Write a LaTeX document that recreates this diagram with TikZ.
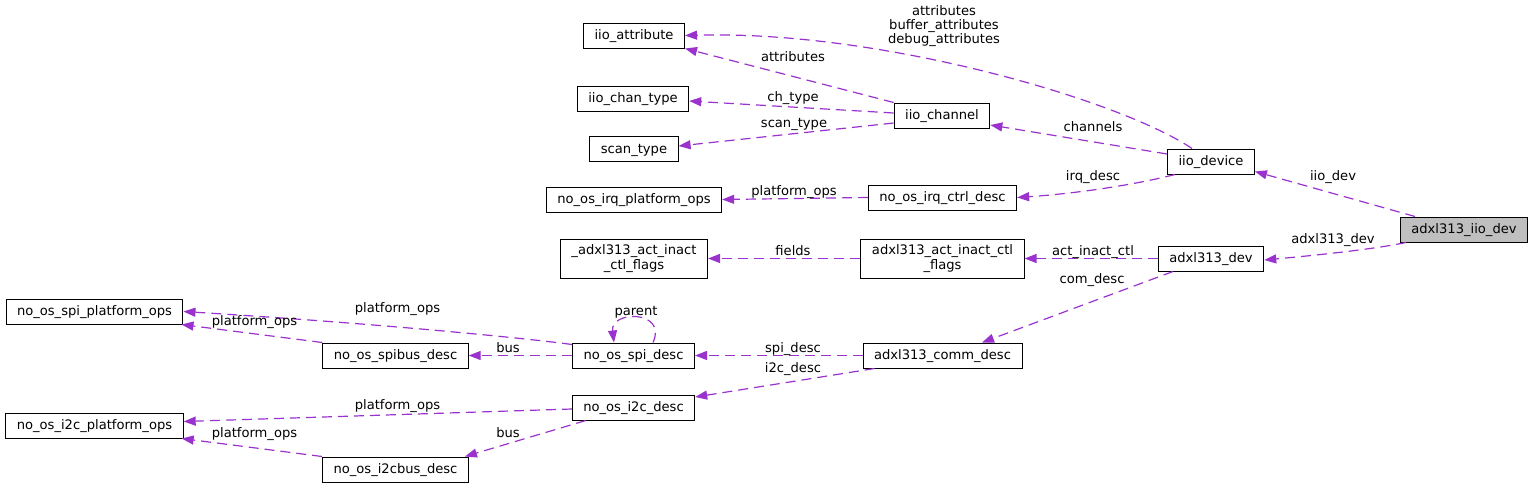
\documentclass[tikz,border=0pt]{standalone}
\usepackage{fontspec}
\setmainfont{DejaVu Sans}
\usetikzlibrary{arrows.meta}
\definecolor{memberpurple}{RGB}{154,50,205}
\definecolor{rootgray}{RGB}{191,191,191}

\begin{document}
\begin{tikzpicture}[x=1pt, y=-1pt,
    every node/.style={font=\fontsize{13.1}{14.2}\selectfont},
    box/.style={draw=black, line width=1pt, fill=white, minimum height=25pt, inner xsep=11pt, inner ysep=2pt, text height=10pt, text depth=2pt, align=center},
    twoline/.style={minimum height=39pt, text height=, text depth=},
    lbl/.style={inner sep=0pt, text height=10.5pt, text depth=1.5pt, align=center},
    member/.style={draw=memberpurple, line width=1.2pt, dash pattern=on 10pt off 6pt, -{Triangle[length=12pt,width=9pt]}}]
    \useasboundingbox (0,0) rectangle (1533,488);

    % Nodes
    \node[box] (attr) at (634,35.5) {iio\_attribute};
    \node[box] (chantype) at (633,98.5) {iio\_chan\_type};
    \node[box] (scantype) at (634,149) {scan\_type};
    \node[box] (channel) at (942,115.5) {iio\_channel};
    \node[box] (irqops) at (634,199.5) {no\_os\_irq\_platform\_ops};
    \node[box] (irqctrl) at (942.5,197.5) {no\_os\_irq\_ctrl\_desc};
    \node[box] (device) at (1211,161.5) {iio\_device};
    \node[box, fill=rootgray] (iiodev) at (1464,229.5) {adxl313\_iio\_dev};
    \node[box] (adxldev) at (1211,258.5) {adxl313\_dev};
    \node[box, twoline] (flagsu) at (634,258.5) {\_adxl313\_act\_inact\\\_ctl\_flags};
    \node[box, twoline] (flags) at (942.5,258.5) {adxl313\_act\_inact\_ctl\\\_flags};
    \node[box] (spiops) at (94.5,311.5) {no\_os\_spi\_platform\_ops};
    \node[box] (spibus) at (395.5,355.5) {no\_os\_spibus\_desc};
    \node[box] (spidesc) at (633.5,355.5) {no\_os\_spi\_desc};
    \node[box] (comm) at (942.5,355.5) {adxl313\_comm\_desc};
    \node[box] (i2cops) at (94.5,425.5) {no\_os\_i2c\_platform\_ops};
    \node[box] (i2cdesc) at (633.5,407.5) {no\_os\_i2c\_desc};
    \node[box] (i2cbus) at (395.5,469.5) {no\_os\_i2cbus\_desc};

    % iio members
    \draw[member] ([xshift=-19pt]device.north) .. controls (1120,100) and (880,30) .. (attr.east);
    \draw[member] (channel.north west) -- (attr.south east);
    \draw[member] ([yshift=2.5pt]channel.west) -- ([yshift=-2.5pt]chantype.east);
    \draw[member] ([yshift=-7.5pt]channel.west) -- ([yshift=3pt]scantype.east);
    \draw[member] ([yshift=7.5pt]device.west) -- ([yshift=-9.5pt]channel.east);
    \draw[member] ([xshift=-36pt]device.south) .. controls (1130,186) and (1070,194) .. (irqctrl.east);
    \draw[member] (irqctrl.west) -- (irqops.east);

    % adxl313 members
    \draw[member] ([xshift=-49pt]iiodev.north) -- ([yshift=-10pt]device.east);
    \draw[member] ([xshift=-58pt]iiodev.south) .. controls (1380,248) and (1330,254) .. ([yshift=-1.5pt]adxldev.east);
    \draw[member] (adxldev.west) -- (flags.east);
    \draw[member] (flags.west) -- (flagsu.east);
    \draw[member] ([xshift=-38pt]adxldev.south) -- ([xshift=39.5pt]comm.north);
    \draw[member] (comm.west) -- (spidesc.east);
    \draw[member] ([xshift=12pt]comm.south west) -- ([yshift=10.5pt]i2cdesc.east);

    % spi / i2c members
    \draw[member] ([xshift=19.5pt]spidesc.north) .. controls (668,310) and (610,310) .. ([xshift=-19.5pt]spidesc.north);
    \draw[member] ([yshift=-2pt]spidesc.north west) .. controls (540,340) and (400,325) .. (spiops.east);
    \draw[member] (spidesc.west) -- (spibus.east);
    \draw[member] (spibus.north west) -- ([xshift=-2pt]spiops.south east);
    \draw[member] ([yshift=-1.5pt]i2cdesc.west) -- ([yshift=4pt]i2cops.east);
    \draw[member] ([xshift=14pt]i2cdesc.south west) -- ([xshift=-4pt]i2cbus.north east);
    \draw[member] (i2cbus.north west) -- ([xshift=-2pt]i2cops.south east);

    % Labels
    \node[inner sep=0pt, align=center] (lattrs) at (944,26) {attributes\\buffer\_attributes\\debug\_attributes};
    \node[lbl] (lattr) at (793,56.5) {attributes};
    \node[lbl] (lchtype) at (793,96.5) {ch\_type};
    \node[lbl] (lscantype) at (794,122.5) {scan\_type};
    \node[lbl] (lchannels) at (1093,126.5) {channels};
    \node[lbl] (lirq) at (1093,176) {irq\_desc};
    \node[lbl] (lirqops) at (794,190.5) {platform\_ops};
    \node[lbl] (liiodev) at (1333,175.5) {iio\_dev};
    \node[lbl] (ladxldev) at (1333,239) {adxl313\_dev};
    \node[lbl] (lactinact) at (1093,250.5) {act\_inact\_ctl};
    \node[lbl] (lfields) at (793,250.5) {fields};
    \node[lbl] (lcomdesc) at (1092,279) {com\_desc};
    \node[lbl] (lspidesc) at (793,347.5) {spi\_desc};
    \node[lbl] (li2cdesc) at (793,367.5) {i2c\_desc};
    \node[lbl] (lparent) at (636,310.7) {parent};
    \node[lbl] (lspiops) at (397.5,307.7) {platform\_ops};
    \node[lbl] (lspibus) at (508,347.7) {bus};
    \node[lbl] (lspibusops) at (254.5,320.7) {platform\_ops};
    \node[lbl] (li2cops) at (397.5,405) {platform\_ops};
    \node[lbl] (li2cbus) at (508,432.7) {bus};
    \node[lbl] (li2cbusops) at (254.5,432.7) {platform\_ops};
\end{tikzpicture}
\end{document}
